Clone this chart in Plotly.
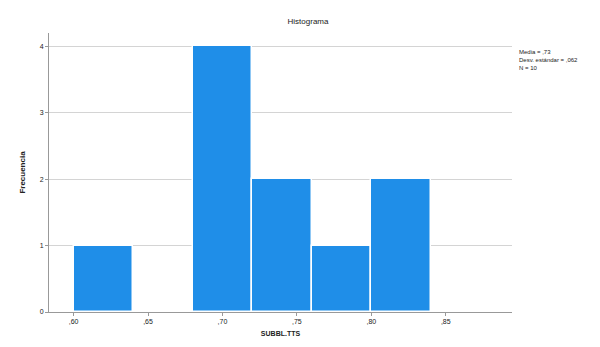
import plotly.graph_objects as go

bin_starts = [0.60, 0.64, 0.68, 0.72, 0.76, 0.80]
counts = [1, 0, 4, 2, 1, 2]
bin_width = 0.04
x_tick_vals = [0.60, 0.65, 0.70, 0.75, 0.80, 0.85]
x_tick_text = [",60", ",65", ",70", ",75", ",80", ",85"]
y_tick_vals = [0, 1, 2, 3, 4]
stats_lines = ["Media = ,73", "Desv. estándar = ,062", "N = 10"]

centers = [s + bin_width / 2 for s in bin_starts]

# page has an 8px body margin, so the figure is sized to fit the 600x347 window
W, H = 592, 339

fig = go.Figure()
fig.add_trace(go.Bar(
    x=centers, y=counts, width=[bin_width] * len(counts),
    marker=dict(color="#1f8ee8", line=dict(color="white", width=1.5)),
    showlegend=False,
))

fig.update_layout(
    width=W, height=H,
    margin=dict(l=41, r=88, t=25, b=35),
    paper_bgcolor="white", plot_bgcolor="white",
    font=dict(family="Liberation Sans, Arial", size=7, color="#222"),
    title=dict(text="Histograma", x=300 / W, xanchor="center",
               y=1 - 13 / H, yanchor="middle", font=dict(size=8)),
    bargap=0,
)
fig.update_xaxes(
    range=[0.5835, 0.8945], tickvals=x_tick_vals, ticktext=x_tick_text,
    showgrid=False, showline=True, linecolor="#999", linewidth=1,
    ticks="outside", ticklen=3, tickcolor="#999",
    title=dict(text="<b>SUBBL.TTS</b>", font=dict(size=7), standoff=6),
    zeroline=False,
)
fig.update_yaxes(
    range=[0, 4.2], tickvals=y_tick_vals, ticktext=[str(v) for v in y_tick_vals],
    showgrid=True, gridcolor="#d4d4d4", gridwidth=1,
    showline=True, linecolor="#999", linewidth=1,
    ticks="outside", ticklen=3, tickcolor="#999",
    title=dict(text="<b>Frecuencia</b>", font=dict(size=8), standoff=12),
    zeroline=False,
)
fig.add_annotation(
    text="<br>".join(stats_lines), xref="paper", yref="paper",
    x=1.01, y=0.95, xanchor="left", yanchor="top", align="left",
    showarrow=False, font=dict(size=6),
)
fig.write_html("out.html")
